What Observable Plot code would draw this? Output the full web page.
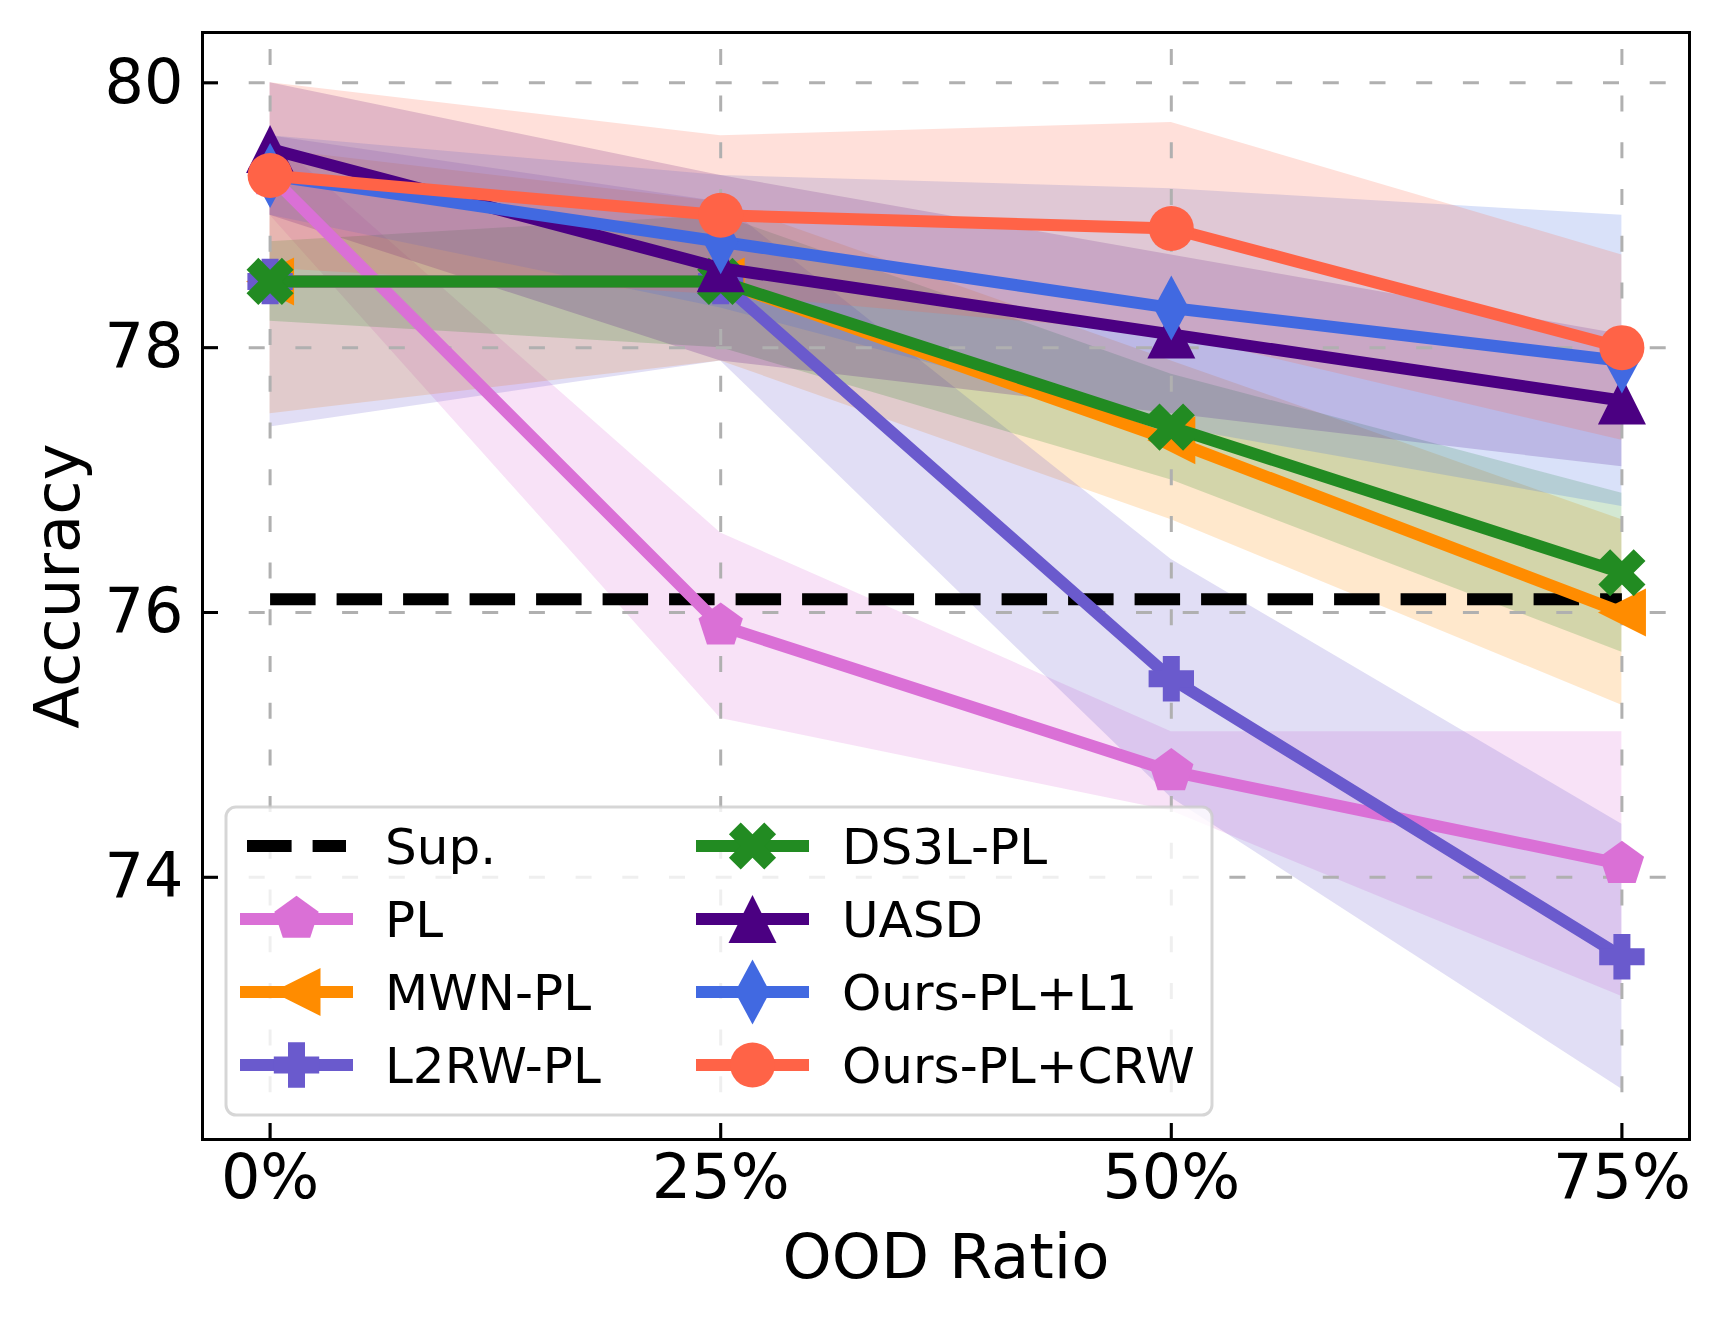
<!DOCTYPE html>
<html><head><meta charset="utf-8">
<script src="https://cdn.jsdelivr.net/npm/d3@7"></script>
<script src="https://cdn.jsdelivr.net/npm/@observablehq/plot@0.6"></script>
<style>html,body{margin:0;padding:0;background:#fff;} #chart{width:1720px;height:1320px;}</style>
</head><body><div id="chart"></div>
<script>
// ---------- data ----------
const ratios = [0, 25, 50, 75];
const xTicks = [0, 25, 50, 75];
const yTicks = [74, 76, 78, 80];
const supLabel = "Sup.";
const supAcc = 76.1;
const methods = ["PL", "MWN-PL", "L2RW-PL", "DS3L-PL", "UASD", "Ours-PL+L1", "Ours-PL+CRW"];
const colors = ["#DA70D6", "#FF8C00", "#6A5ACD", "#228B22", "#4B0082", "#4169E1", "#FF6347"];
const markerNames = ["pentagon", "triangleLeft", "plusFilled", "xFilled", "triangleUp", "thinDiamond", "circle"];
const meanPL   = [79.3, 75.9, 74.8, 74.1];
const stdPL    = [0.3, 0.7, 0.3, 1.0];
const meanMWN  = [78.5, 78.5, 77.3, 76.0];
const stdMWN   = [1.0, 0.6, 0.6, 0.7];
const meanL2RW = [78.5, 78.5, 75.5, 73.4];
const stdL2RW  = [1.1, 0.6, 0.9, 1.0];
const meanDS3L = [78.5, 78.5, 77.4, 76.3];
const stdDS3L  = [0.3, 0.5, 0.4, 0.6];
const meanUASD = [79.5, 78.6, 78.1, 77.6];
const stdUASD  = [0.5, 0.7, 0.6, 0.5];
const meanL1   = [79.3, 78.8, 78.3, 77.9];
const stdL1    = [0.3, 0.5, 0.9, 1.1];
const meanCRW  = [79.3, 79.0, 78.9, 78.0];
const stdCRW   = [0.7, 0.6, 0.8, 0.7];
const means = [meanPL, meanMWN, meanL2RW, meanDS3L, meanUASD, meanL1, meanCRW];
const stds  = [stdPL, stdMWN, stdL2RW, stdDS3L, stdUASD, stdL1, stdCRW];
const xDomain = [-3.75, 78.75];
const yDomain = [72.02, 80.38];

// ---------- table ----------
const rows = methods.flatMap((m, k) => ratios.map((r, i) => ({
  method: m, ratio: r, acc: means[k][i], lo: means[k][i] - stds[k][i], hi: means[k][i] + stds[k][i]
})));
const supRows = ratios.map(r => ({ratio: r, acc: supAcc}));

// ---------- marker shapes (matplotlib-like) ----------
const BASE = 22.5;
function poly(ctx, pts, k) {
  ctx.moveTo(pts[0][0] * k, pts[0][1] * k);
  for (let i = 1; i < pts.length; i++) ctx.lineTo(pts[i][0] * k, pts[i][1] * k);
  ctx.closePath();
}
function plusPts(e, a) {
  return [[-a,-e],[a,-e],[a,-a],[e,-a],[e,a],[a,a],[a,e],[-a,e],[-a,a],[-e,a],[-e,-a],[-a,-a]];
}
const symbols = {
  circle: {draw(ctx, size) { const r = Math.sqrt(size / Math.PI); ctx.moveTo(r, 0); ctx.arc(0, 0, r, 0, 2 * Math.PI); ctx.closePath(); }},
  pentagon: {draw(ctx, size) { const k = Math.sqrt(size / Math.PI) / BASE; const R = 23.3;
    poly(ctx, d3.range(5).map(i => { const t = -Math.PI / 2 + i * 2 * Math.PI / 5; return [R * Math.cos(t), R * Math.sin(t)]; }), k); }},
  triangleLeft: {draw(ctx, size) { const k = Math.sqrt(size / Math.PI) / BASE; poly(ctx, [[-24,0],[24,-24],[24,24]], k); }},
  triangleUp: {draw(ctx, size) { const k = Math.sqrt(size / Math.PI) / BASE; poly(ctx, [[0,-24],[24,24],[-24,24]], k); }},
  thinDiamond: {draw(ctx, size) { const k = Math.sqrt(size / Math.PI) / BASE; poly(ctx, [[0,-32.5],[17.5,0],[0,32.5],[-17.5,0]], k); }},
  plusFilled: {draw(ctx, size) { const k = Math.sqrt(size / Math.PI) / BASE; poly(ctx, plusPts(22.7, 8.5), k); }},
  xFilled: {draw(ctx, size) { const k = Math.sqrt(size / Math.PI) / BASE; const c = Math.SQRT1_2;
    poly(ctx, plusPts(25, 8.35).map(([x, y]) => [c * (x - y), c * (x + y)]), k); }}
};

// ---------- marks ----------
const marks = [];
// std bands
marks.push(Plot.areaY(rows, {x: "ratio", y1: "lo", y2: "hi", z: "method", fill: "method", fillOpacity: 0.2, curve: "linear"}));
// grid
marks.push(Plot.ruleY(yTicks, {y: d => d, x1: xDomain[0], x2: xDomain[1], stroke: "#b0b0b0", strokeWidth: 3, strokeDasharray: "16,30.7"}));
marks.push(Plot.ruleX(xTicks, {x: d => d, y1: yDomain[0], y2: yDomain[1], stroke: "#b0b0b0", strokeWidth: 3, strokeDasharray: "16,30.7"}));
// supervised baseline
marks.push(Plot.line(supRows, {x: "ratio", y: "acc", stroke: "black", strokeWidth: 12, strokeDasharray: "45.5,21", strokeLinecap: "butt"}));
// series
methods.forEach((m, k) => {
  const d = rows.filter(r => r.method === m);
  marks.push(Plot.line(d, {x: "ratio", y: "acc", stroke: colors[k], strokeWidth: 12, strokeLinejoin: "round", strokeLinecap: "square"}));
  marks.push(Plot.dot(d, {x: "ratio", y: "acc", r: BASE, symbol: symbols[markerNames[k]], fill: colors[k], stroke: "none"}));
});
// inward ticks + frame
marks.push(Plot.tickY(yTicks, {y: d => d, stroke: "black", strokeWidth: 3, insetRight: 1471}));
marks.push(Plot.tickX(xTicks, {x: d => d, stroke: "black", strokeWidth: 3, insetTop: 1091}));
marks.push(Plot.frame({stroke: "black", strokeWidth: 3}));
// axis titles
marks.push(Plot.text(["OOD Ratio"], {text: d => d, frameAnchor: "bottom", dy: 118, fontSize: 62.5, lineAnchor: "middle", textAnchor: "middle"}));
marks.push(Plot.text(["Accuracy"], {text: d => d, frameAnchor: "left", dx: -144, rotate: -90, fontSize: 62.5, lineAnchor: "middle", textAnchor: "middle"}));

const chart = Plot.plot({
  width: 1720, height: 1320,
  marginLeft: 202, marginRight: 31, marginTop: 32, marginBottom: 181,
  style: {fontFamily: "DejaVu Sans", fontSize: "62px", background: "white", color: "black"},
  x: {domain: xDomain, ticks: xTicks, tickFormat: d => d + "%", tickSize: 0, tickPadding: 14, label: null},
  y: {domain: yDomain, ticks: yTicks, tickSize: 0, tickPadding: 19, label: null},
  color: {domain: methods, range: colors},
  marks
});
document.getElementById("chart").appendChild(chart);

// ---------- legend (inside plot, lower left) ----------
const legendLabels = [supLabel, ...methods];
const legendColors = ["black", ...colors];
const legendMarkers = [null, ...markerNames];
const svg = d3.select(chart);
const lg = svg.append("g").attr("font-family", "DejaVu Sans").attr("font-size", 50).attr("text-anchor", "start");
lg.append("rect").attr("x", 226).attr("y", 807).attr("width", 986).attr("height", 308).attr("rx", 10)
  .attr("fill", "white").attr("fill-opacity", 0.8).attr("stroke", "#cccccc").attr("stroke-opacity", 0.8).attr("stroke-width", 3);
const colX = [[240, 353, 385], [696, 809, 842]];
const rowY = [846, 919, 992, 1065];
legendLabels.forEach((lab, i) => {
  const c = Math.floor(i / 4), r = i % 4;
  const [h0, h1, tx] = colX[c];
  const cy = rowY[r];
  if (legendMarkers[i] === null) {
    lg.append("line").attr("x1", h0 + 7).attr("x2", h1 - 7).attr("y1", cy).attr("y2", cy)
      .attr("stroke", "black").attr("stroke-width", 12).attr("stroke-dasharray", "44.6,21");
  } else {
    lg.append("line").attr("x1", h0).attr("x2", h1).attr("y1", cy).attr("y2", cy)
      .attr("stroke", legendColors[i]).attr("stroke-width", 12);
    const p = d3.path();
    symbols[legendMarkers[i]].draw(p, Math.PI * BASE * BASE);
    lg.append("path").attr("d", p.toString()).attr("transform", `translate(${(h0 + h1) / 2},${cy})`).attr("fill", legendColors[i]);
  }
  lg.append("text").attr("x", tx).attr("y", cy + 18.2).attr("text-anchor", "start").attr("fill", "black").text(lab);
});
</script>
</body></html>
